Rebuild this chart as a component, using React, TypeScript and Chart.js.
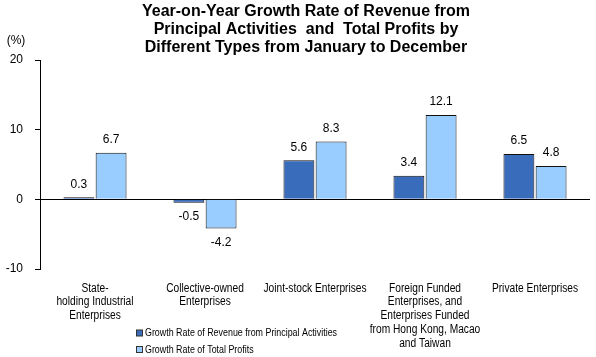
import React, { useEffect, useRef } from 'react';
import { Chart, registerables } from 'chart.js';

Chart.register(...registerables);

const titleLines = [
  'Year-on-Year Growth Rate of Revenue from',
  'Principal Activities  and  Total Profits by',
  'Different Types from January to December',
];
const unitLabel = '(%)';
const categories: (string | string[])[] = [
  ['State-', 'holding Industrial', 'Enterprises'],
  ['Collective-owned', 'Enterprises'],
  'Joint-stock Enterprises',
  ['Foreign Funded', 'Enterprises, and', 'Enterprises Funded', 'from Hong Kong, Macao', 'and Taiwan'],
  'Private Enterprises',
];
const seriesNames = [
  'Growth Rate of Revenue from Principal Activities',
  'Growth Rate of Total Profits',
];
const revenueGrowth = [0.3, -0.5, 5.6, 3.4, 6.5];
const profitGrowth = [6.7, -4.2, 8.3, 12.1, 4.8];
const yMin = -10;
const yMax = 20;
const yStep = 10;

const colors = ['#3A6CBC', '#99CCFF'];
const REG = "'Liberation Sans', Arial, sans-serif";

function narrowText(ctx: CanvasRenderingContext2D, text: string, x: number, y: number, sx: number) {
  ctx.save();
  ctx.translate(x, y);
  ctx.scale(sx, 1);
  ctx.fillText(text, 0, 0);
  ctx.restore();
}

const overlayPlugin = {
  id: 'overlay',
  afterDraw(chart: any) {
    const ctx = chart.ctx as CanvasRenderingContext2D;
    ctx.save();
    ctx.fillStyle = '#000';
    // title
    ctx.textAlign = 'center';
    ctx.textBaseline = 'alphabetic';
    ctx.font = `bold 16px ${REG}`;
    titleLines.forEach((t, i) => ctx.fillText(t, 306, 15.5 + i * 18.2));
    // unit
    ctx.textBaseline = 'middle';
    ctx.font = `12px ${REG}`;
    ctx.fillText(unitLabel, 16, 41);
    // data labels
    chart.data.datasets.forEach((ds: any, di: number) => {
      const meta = chart.getDatasetMeta(di);
      meta.data.forEach((el: any, i: number) => {
        const v = ds.data[i];
        const txt = v.toFixed(1);
        if (v >= 0) ctx.fillText(txt, el.x, el.y - 13);
        else ctx.fillText(txt, el.x, el.y + 14);
      });
    });
    // category labels (condensed)
    const xs = chart.scales.x;
    ctx.textAlign = 'center';
    ctx.textBaseline = 'alphabetic';
    ctx.font = `12px ${REG}`;
    categories.forEach((lab, i) => {
      const lines = Array.isArray(lab) ? lab : [lab];
      const x = xs.getPixelForTick(i);
      lines.forEach((ln, j) => narrowText(ctx, ln, x, 291.5 + j * 13.8, 0.85));
    });
    // legend
    ctx.textAlign = 'left';
    ctx.textBaseline = 'middle';
    ctx.font = `10.5px ${REG}`;
    seriesNames.forEach((name, i) => {
      const cy = 333 + i * 16.5;
      ctx.fillStyle = colors[i];
      ctx.fillRect(136.5, cy - 3, 6, 6);
      ctx.strokeStyle = '#333';
      ctx.lineWidth = 1;
      ctx.strokeRect(136.5, cy - 3, 6, 6);
      ctx.fillStyle = '#000';
      narrowText(ctx, name, 145, cy + 0.5, 0.846);
    });
    ctx.restore();
  },
};

export default function App() {
  const ref = useRef<HTMLCanvasElement>(null);
  useEffect(() => {
    if (!ref.current) return;
    const chart = new Chart(ref.current, {
      type: 'bar',
      data: {
        labels: categories,
        datasets: [
          {
            label: seriesNames[0],
            data: revenueGrowth,
            backgroundColor: colors[0],
            borderColor: '#111',
            borderWidth: 1,
            categoryPercentage: 0.585,
            barPercentage: 0.96,
          },
          {
            label: seriesNames[1],
            data: profitGrowth,
            backgroundColor: colors[1],
            borderColor: '#111',
            borderWidth: 1,
            categoryPercentage: 0.585,
            barPercentage: 0.96,
          },
        ],
      },
      options: {
        responsive: false,
        animation: false,
        layout: { padding: { top: 60, right: 6, left: 0, bottom: 0 } },
        plugins: {
          legend: { display: false },
          title: { display: false },
          tooltip: { enabled: false },
        },
        scales: {
          x: {
            grid: { display: false, drawTicks: false },
            border: { display: false },
            ticks: { display: false, autoSkip: false },
            afterFit(scale: any) {
              scale.height = 88;
            },
          },
          y: {
            min: yMin,
            max: yMax,
            ticks: {
              stepSize: yStep,
              color: '#000',
              font: { family: REG, size: 12 },
              padding: 12,
            },
            grid: {
              color: (c: any) => (c.tick && c.tick.value === 0 ? '#000' : 'rgba(0,0,0,0)'),
              tickColor: '#000',
              tickLength: 5,
              lineWidth: 1,
            },
            border: { display: true, color: '#000', width: 1 },
            afterFit(scale: any) {
              scale.width = 40;
            },
          },
        },
      },
      plugins: [overlayPlugin],
    });
    return () => chart.destroy();
  }, []);
  return (
    <div style={{ position: 'absolute', left: 0, top: 0, width: 596, height: 357, background: '#fff' }}>
      <canvas ref={ref} width={596} height={357} style={{ width: 596, height: 357 }} />
    </div>
  );
}
